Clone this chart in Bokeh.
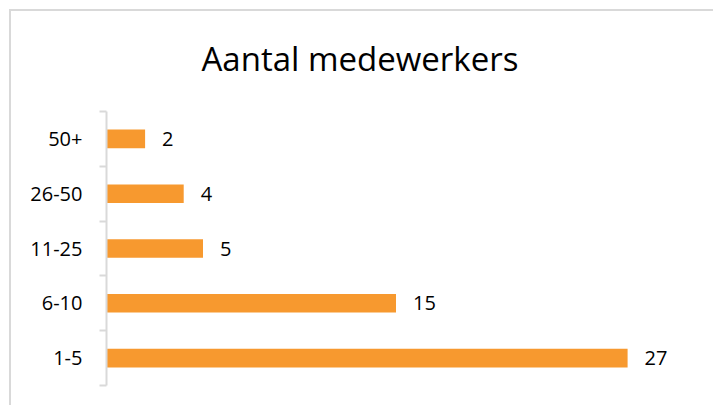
from bokeh.plotting import figure
from bokeh.models import FixedTicker, Range1d, ColumnDataSource
from bokeh.embed import file_html
from bokeh.resources import INLINE
from bokeh.core.properties import value

# data (bottom to top)
categories = ["1-5", "6-10", "11-25", "26-50", "50+"]
counts = [27, 15, 5, 4, 2]
title_text = "Aantal medewerkers"

FONT = "Open Sans"
BAR = "#F7992F"
GRID = "#D9D9D9"

pos = [i + 0.5 for i in range(len(categories))]
src = ColumnDataSource(dict(y=pos, v=counts, lab=[str(c) for c in counts]))

p = figure(width=713, height=405, output_backend="svg", toolbar_location=None,
           x_range=Range1d(0, 30), y_range=Range1d(0, len(categories)),
           x_axis_location=None, title=title_text,
           min_border_left=106, min_border_right=28, min_border_top=111, min_border_bottom=20)
p.outline_line_color = None
p.border_fill_color = None
p.background_fill_color = None
p.xgrid.visible = False
p.ygrid.visible = False
# chart-area border: only top and left edges fall inside the window
p.styles = {
    "background-image": "linear-gradient(#D9D9D9, #D9D9D9), linear-gradient(#D9D9D9, #D9D9D9)",
    "background-repeat": "no-repeat, no-repeat",
    "background-position": "9px 9px, 9px 9px",
    "background-size": "100% 2px, 2px 100%",
}

p.title.text_font = FONT
p.title.text_font_size = "33px"
p.title.text_font_style = "normal"
p.title.text_color = "#000000"
p.title.align = "left"
p.title.offset = 95
p.title.standoff = 62

p.hbar(y="y", right="v", left=0, height=0.34, source=src, fill_color=BAR, line_color=None)
p.text(x="v", y="y", text="lab", source=src, x_offset=17, text_baseline="middle",
       text_align="left", text_font=value(FONT), text_font_size="20px", text_color="#000000")

ax = p.yaxis[0]
ax.ticker = FixedTicker(ticks=pos, minor_ticks=list(range(len(categories) + 1)))
ax.major_label_overrides = {pp: c for pp, c in zip(pos, categories)}
ax.major_tick_out = 0
ax.major_tick_in = 0
ax.minor_tick_out = 7
ax.minor_tick_in = 0
ax.minor_tick_line_color = GRID
ax.minor_tick_line_width = 2
ax.axis_line_color = GRID
ax.axis_line_width = 2
ax.major_label_standoff = 17
ax.major_label_text_font = FONT
ax.major_label_text_font_size = "20px"
ax.major_label_text_color = "#000000"

open("out.html", "w").write(file_html(p, INLINE))
